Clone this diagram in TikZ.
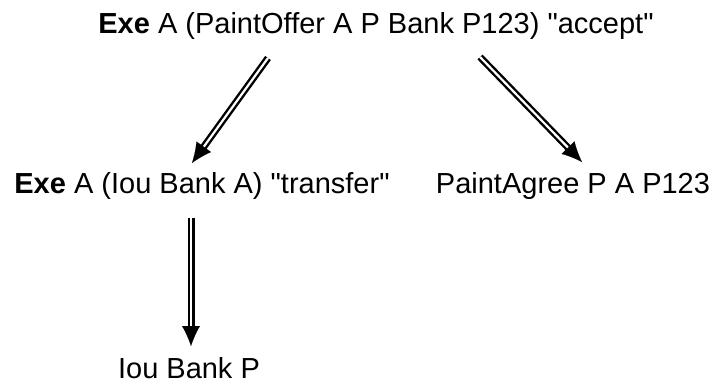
\documentclass[tikz,border=0pt]{standalone}
\usepackage{fontspec}
\setmainfont{Liberation Sans}[Ligatures=TeXOff]
\usetikzlibrary{arrows.meta,calc}
\newcommand{\dq}{\symbol{"22}}
\begin{document}
\begin{tikzpicture}[x=1pt,y=-1pt,
  lbl/.style={font=\fontsize{29}{33}\selectfont, inner sep=0pt, anchor=base},
  dbl/.style={double, double distance=2.2pt, line width=2.4pt, shorten >=16pt},
  tip/.style={line width=0.1pt, -{Latex[length=20pt,width=18pt]}}]
\useasboundingbox (0,0) rectangle (713,383);
\node[lbl] (top) at (376,33) {\textbf{Exe} A (PaintOffer A P Bank P123) \dq accept\dq};
\node[lbl] (left) at (202,193) {\textbf{Exe} A (Iou Bank A) \dq transfer\dq};
\node[lbl] (right) at (573,193) {PaintAgree P A P123};
\node[lbl] (bot) at (189,378) {Iou Bank P};
\coordinate (a1s) at (268,58);
\coordinate (a1e) at (192,163);
\coordinate (a2s) at (480,57);
\coordinate (a2e) at (582,162);
\coordinate (a3s) at (191,218);
\coordinate (a3e) at (191,346);
\foreach \s/\e in {a1s/a1e,a2s/a2e,a3s/a3e}{
  \draw[dbl] (\s) -- (\e);
  \draw[tip] ($(\e)!20pt!(\s)$) -- (\e);
}
\end{tikzpicture}
\end{document}
